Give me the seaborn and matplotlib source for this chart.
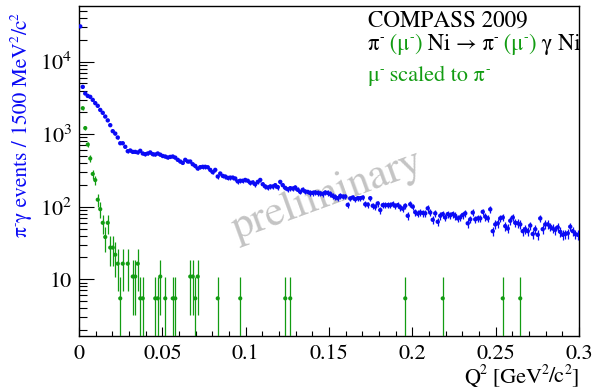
import numpy as np
import pandas as pd
import matplotlib
matplotlib.use("Agg")
import matplotlib.pyplot as plt
import seaborn as sns
from matplotlib.ticker import FixedLocator, MultipleLocator, NullFormatter

# ---------------- data ----------------
BIN_WIDTH = 0.0015           # GeV^2/c^2  (1500 MeV^2/c^2)
MU_SCALE = 5.45              # weight of one mu- event after scaling to pi-

blue_counts = [
    30600, 4490, 3640, 3370, 3270, 2970, 2680, 2460, 2160, 1970,
    1750, 1550, 1330, 1100, 1020, 900, 750, 750, 670, 583,
    596, 570, 570, 560, 590, 542, 530, 542, 560, 530,
    525, 542, 522, 500, 492, 477, 486, 492, 475, 443,
    420, 402, 443, 420, 420, 385, 365, 336, 351, 355,
    355, 350, 322, 299, 322, 261, 287, 266, 261, 250,
    252, 252, 245, 223, 228, 228, 234, 228, 214, 216,
    204, 220, 234, 204, 190, 184, 190, 190, 198, 186,
    220, 198, 182, 174, 180, 178, 184, 171, 160, 171,
    162, 160, 155, 155, 157, 155, 153, 150, 157, 155,
    150, 141, 136, 131, 141, 138, 138, 106, 130, 134,
    127, 131, 131, 134, 108, 107, 131, 103, 100, 111,
    90, 105, 105, 105, 105, 108, 103, 105, 98, 94,
    103, 75, 108, 100, 84, 80, 83, 82, 81, 95,
    83, 66, 81, 62, 75, 79, 71, 79, 76, 79,
    75, 69, 71, 77, 81, 59, 67, 83, 67, 69,
    69, 85, 73, 69, 92, 46, 57, 59, 69, 71,
    54, 50, 64, 71, 60, 59, 57, 46, 49, 46,
    55, 42, 49, 41, 69, 49, 57, 57, 53, 50,
    48, 52, 45, 41, 42, 43, 53, 46, 42, 41,
]

green_bins = [1, 2, 3, 4, 5, 6, 7, 8, 9, 10,
              11, 12, 13, 14, 15, 16, 17, 19, 21, 22,
              23, 24, 25, 30, 31, 32, 34, 37, 38, 44,
              45, 46, 47, 55, 64, 82, 84, 130, 145, 169, 176]
green_vals = [2285, 1215, 720, 462, 283, 233, 125, 92.5, 60.0, 38.2,
              60.0, 27.3, 27.3, 21.8, 16.4, 5.45, 16.4, 16.4, 10.9, 10.9,
              16.4, 5.45, 5.45, 5.45, 5.45, 10.9, 5.45, 5.45, 5.45, 10.9,
              10.9, 5.45, 10.9, 5.45, 5.45, 5.45, 5.45, 5.45, 5.45, 5.45, 5.45]

x_ticks = [0, 0.05, 0.1, 0.15, 0.2, 0.25, 0.3]
x_tick_labels = ["0", "0.05", "0.1", "0.15", "0.2", "0.25", "0.3"]
y_ticks = [10, 100, 1000, 10000]
y_tick_labels = ["10", "$10^{2}$", "$10^{3}$", "$10^{4}$"]

# ---------------- tables ----------------
blue = pd.DataFrame({"q2": (np.arange(len(blue_counts)) + 0.5) * BIN_WIDTH,
                     "n": np.array(blue_counts, dtype=float)})
blue["err"] = np.sqrt(blue["n"])
green = pd.DataFrame({"q2": (np.array(green_bins) + 0.5) * BIN_WIDTH,
                      "n": np.array(green_vals, dtype=float)})
green["err"] = np.sqrt(green["n"] * MU_SCALE)

BLUE = "#0a0af5"
GREEN = "#129c12"
BLACK = "black"

# ---------------- style ----------------
sns.set_theme(style="ticks")
plt.rcParams["font.family"] = ["STIXGeneral", "DejaVu Serif"]
plt.rcParams["mathtext.fontset"] = "stix"

W, H = 594, 387
PX = 100 / 72
fig = plt.figure(figsize=(W / 100, H / 100), dpi=100)
ax = fig.add_axes([79 / W, 51 / H, 500 / W, 330 / H])

# error bars
ax.errorbar(blue["q2"], blue["n"], yerr=blue["err"], fmt="none",
            ecolor=BLUE, elinewidth=0.9, capsize=0, zorder=3)
g_low = np.minimum(green["err"], green["n"] - 1e-3)
ax.errorbar(green["q2"], green["n"], yerr=[g_low, green["err"]], fmt="none",
            ecolor=GREEN, elinewidth=0.9, capsize=0, zorder=3)

sns.scatterplot(data=blue, x="q2", y="n", ax=ax, color=BLUE, s=10,
                edgecolor="none", linewidth=0, zorder=4)
sns.scatterplot(data=green, x="q2", y="n", ax=ax, color=GREEN, s=9,
                edgecolor="none", linewidth=0, zorder=4)

ax.set_yscale("log")
ax.set_xlim(0, 0.3)
ax.set_ylim(1.65, 58500)
ax.set_xlabel("")
ax.set_ylabel("")

ax.xaxis.set_major_locator(FixedLocator(x_ticks))
ax.set_xticklabels(x_tick_labels)
ax.xaxis.set_minor_locator(MultipleLocator(0.01))
ax.yaxis.set_major_locator(FixedLocator(y_ticks))
ax.set_yticklabels(y_tick_labels)
minor_y = [m * 10 ** e for e in range(0, 5) for m in range(2, 10)]
ax.yaxis.set_minor_locator(FixedLocator(minor_y))
ax.yaxis.set_minor_formatter(NullFormatter())

for s in ax.spines.values():
    s.set_visible(True)
    s.set_color("black")
    s.set_linewidth(1.0)

ax.tick_params(axis="both", which="both", direction="in", top=False, right=False,
               colors="black", width=0.8, labelsize=16)
ax.tick_params(axis="y", which="major", length=10.8, pad=5)
ax.tick_params(axis="y", which="minor", length=5.5)
ax.tick_params(axis="x", which="major", length=6.7, pad=6)
ax.tick_params(axis="x", which="minor", length=3.3)
ax.grid(False)

# watermark
ax.text((327 - 79) / 500, (336 - 195) / 330, "preliminary", transform=ax.transAxes,
        rotation=20, rotation_mode="anchor", ha="center", va="center",
        fontsize=31, color="#c4c4c4", zorder=1)

renderer = fig.canvas.get_renderer()


def draw_pieces(pieces, x0, y0, size=16.5, vertical=False, align="left"):
    """pieces: (text, colour, is_superscript); x0, y0: baseline start in
    pixels from the top-left corner of the figure."""
    objs = []
    pos = 0.0
    for txt, col, sup in pieces:
        fs = size * 0.62 if sup else size
        lift = size * 0.38 * PX if sup else 0.0
        if vertical:
            t = fig.text((x0 - lift) / W, 1 - (y0 - pos) / H, txt, color=col,
                         fontsize=fs, rotation=90, rotation_mode="anchor",
                         ha="left", va="baseline")
            pos += t.get_window_extent(renderer).height
        else:
            t = fig.text((x0 + pos) / W, 1 - (y0 - lift) / H, txt, color=col,
                         fontsize=fs, ha="left", va="baseline")
            pos += t.get_window_extent(renderer).width
        objs.append(t)
    if align == "right" and not vertical:
        for t in objs:
            px, py = t.get_position()
            t.set_position((px - pos / W, py))
    return pos


# header lines
draw_pieces([("COMPASS 2009", BLACK, False)], 368, 27, size=16.7)
draw_pieces([("π", BLACK, False), ("-", BLACK, True),
             (" (μ", GREEN, False), ("-", GREEN, True), (")", GREEN, False),
             (" Ni → π", BLACK, False), ("-", BLACK, True),
             (" (μ", GREEN, False), ("-", GREEN, True), (")", GREEN, False),
             (" γ Ni", BLACK, False)], 368, 50, size=16.3)
draw_pieces([("μ", GREEN, False), ("-", GREEN, True), (" scaled to π", GREEN, False),
             ("-", GREEN, True)], 368, 81, size=16.0)

# axis titles
draw_pieces([("π", BLUE, False), ("-", BLUE, True),
             ("γ events / 1500 MeV", BLUE, False), ("2", BLUE, True),
             ("/c", BLUE, False), ("2", BLUE, True)], 27, 237, size=15.5,
            vertical=True)
draw_pieces([("Q", BLACK, False), ("2", BLACK, True), (" [GeV", BLACK, False),
             ("2", BLACK, True), ("/c", BLACK, False), ("2", BLACK, True),
             ("]", BLACK, False)], 579, 382, size=16.0, align="right")

fig.savefig("out.png", dpi=100)
